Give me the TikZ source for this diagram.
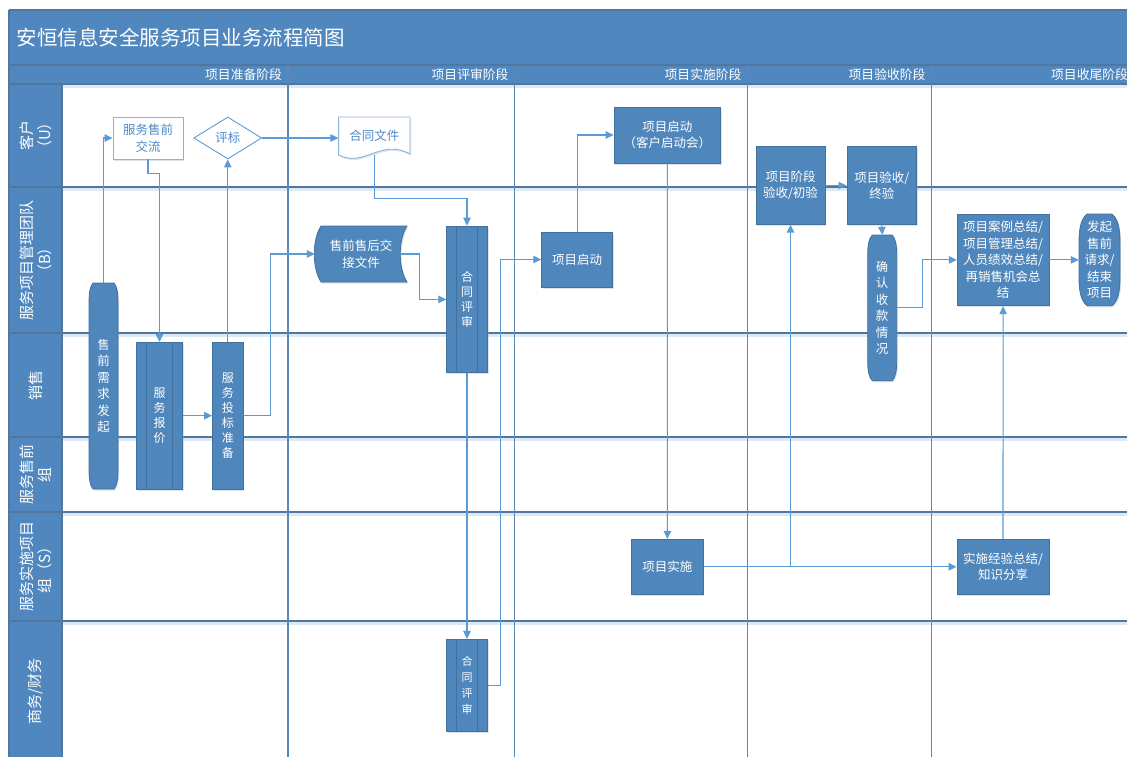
\documentclass[tikz,border=0pt]{standalone}
\usepackage{fontspec}
\setmainfont{Noto Sans CJK SC}
\usetikzlibrary{arrows.meta,shapes.geometric,calc,shadows}
\definecolor{hdr}{HTML}{4F87BE}
\definecolor{nodef}{HTML}{4F86BC}
\definecolor{nodeb}{HTML}{41719C}
\definecolor{lanel}{HTML}{52779F}
\definecolor{phasel}{HTML}{5C87B6}
\definecolor{connc}{HTML}{5B9BD5}
\definecolor{lightb}{HTML}{8EB2DC}
\definecolor{ltext}{HTML}{5089C8}
\definecolor{glow}{HTML}{DCE8F4}
\definecolor{shad}{HTML}{9DB3CC}
\pgfdeclarelayer{grid}
\pgfdeclarelayer{shape}
\pgfsetlayers{grid,shape,main}
\tikzset{
 nodetxt/.style={font=\fontsize{12.5}{16.5}\selectfont},
 softshadow/.style={drop shadow={shadow xshift=1.2pt, shadow yshift=-1.6pt, fill=shad, opacity=0.35}},
 fillbox/.style={draw=nodeb, fill=nodef, text=white, inner sep=0pt, align=center, line width=0.8pt, nodetxt, softshadow},
 ghost/.style={inner sep=0pt, align=center, text=white, nodetxt},
 outbox/.style={draw=lightb, fill=white, text=ltext, inner sep=0pt, align=center, line width=0.9pt, nodetxt, softshadow},
 sz/.style 2 args={minimum width=#1pt, minimum height=#2pt},
 conn/.style={draw=connc, line width=1.1pt, -{Triangle[length=8pt,width=7.5pt]}},
 laneline/.style={draw=lanel, line width=1.3pt},
 phaseline/.style={draw=phasel, line width=1.2pt},
 lanelabel/.style={rotate=90, text=white, align=center, font=\fontsize{15}{18}\selectfont},
 phaselabel/.style={anchor=east, text=white, font=\fontsize{12.8}{15}\selectfont},
 vstack/.style={font=\fontsize{12}{15}\selectfont},
 shapesty/.style={fill=nodef, draw=nodeb, line width=0.8pt, softshadow},
}
\newcommand{\pillnode}[7]{%
 \pgfmathsetmacro\pLx{#2-#4/2}%
 \pgfmathsetmacro\pRx{#2+#4/2}%
 \pgfmathsetmacro\pTy{#3-#5/2}%
 \pgfmathsetmacro\pBy{#3+#5/2}%
 \pgfmathsetmacro\pIn{#7*#4}%
 \pgfmathsetmacro\pCx{0.3*#7*#4}%
 \pgfmathsetmacro\pRy{0.7*#4}%
 \pgfmathsetmacro\pCa{0.15*0.7*#4}%
 \pgfmathsetmacro\pCb{0.45*0.7*#4}%
 \begin{pgfonlayer}{shape}
 \path[shapesty] ({\pLx+\pIn},\pTy) -- ({\pRx-\pIn},\pTy)
   .. controls ({\pRx-\pCx},{\pTy+\pCa}) and (\pRx,{\pTy+\pCb}) .. (\pRx,{\pTy+\pRy})
   -- (\pRx,{\pBy-\pRy})
   .. controls (\pRx,{\pBy-\pCb}) and ({\pRx-\pCx},{\pBy-\pCa}) .. ({\pRx-\pIn},\pBy)
   -- ({\pLx+\pIn},\pBy)
   .. controls ({\pLx+\pCx},{\pBy-\pCa}) and (\pLx,{\pBy-\pCb}) .. (\pLx,{\pBy-\pRy})
   -- (\pLx,{\pTy+\pRy})
   .. controls (\pLx,{\pTy+\pCb}) and ({\pLx+\pCx},{\pTy+\pCa}) .. cycle;
 \end{pgfonlayer}
 \node[ghost, sz={#4}{#5}] (#1) at (#2,#3) {#6};
}
\newcommand{\subprlines}[1]{\draw[nodeb, line width=0.8pt] ([xshift=10.5pt]#1.north west) -- ([xshift=10.5pt]#1.south west) ([xshift=-10.5pt]#1.north east) -- ([xshift=-10.5pt]#1.south east);}
\begin{document}
\begin{tikzpicture}[x=1pt,y=-1pt]
\useasboundingbox (0,0) rectangle (1127,756);
\begin{pgfonlayer}{grid}
\begin{scope}
\clip (0,0) rectangle (1127,756);
\fill[white] (0,0) rectangle (1127,756);
\fill[hdr] (9,10) rectangle (1145,84);
\fill[hdr] (9,84) rectangle (62,770);
\foreach \yy in {84,187,333,437,512,621} \draw[glow, line width=2.5pt] (62,\yy+2.5) -- (1145,\yy+2.5);
\draw[laneline] (9,65) -- (1145,65);
\draw[laneline] (9,84) -- (1145,84);
\foreach \yy in {187,333,437,512,621} \draw[laneline] (9,\yy) -- (1145,\yy);
\foreach \xx in {288,514.5,747.3,931.4,1134} \draw[phaseline] (\xx,65) -- (\xx,770);
\draw[laneline] (62,84) -- (62,770);
\draw[laneline] (9,10) -- (1145,10);
\draw[laneline] (9,10) -- (9,770);
\end{scope}
\end{pgfonlayer}

% title and headers
\node[anchor=west, text=white, font=\fontsize{20.5}{24}\selectfont] (title) at (13,38) {安恒信息安全服务项目业务流程简图};
\node[phaselabel] (ph1) at (285.5,74.5) {项目准备阶段};
\node[phaselabel] (ph2) at (512,74.5) {项目评审阶段};
\node[phaselabel] (ph3) at (745,74.5) {项目实施阶段};
\node[phaselabel] (ph4) at (929,74.5) {项目验收阶段};
\node[phaselabel] (ph5) at (1131.5,74.5) {项目收尾阶段};

\node[lanelabel] (lu) at (35.5,135.5) {客户\\（U）};
\node[lanelabel] (lb) at (35.5,260) {服务项目管理团队\\（B）};
\node[lanelabel] (lx) at (35.5,385) {销售};
\node[lanelabel] (lq) at (35.5,474.5) {服务售前\\组};
\node[lanelabel] (ls) at (35.5,566.5) {服务实施项目\\组（S）};
\node[lanelabel] (lw) at (35.5,691.5) {商务/财务};

% nodes
\node[outbox, sz={70}{42}] (fwsq) at (148,138) {服务售前\\交流};
\node[diamond, draw=connc, fill=white, text=ltext, inner sep=0pt, sz={68}{42}, nodetxt, line width=0.9pt] (pb) at (227.75,138) {评标};

\begin{pgfonlayer}{shape}
\path[draw=lightb, fill=white, line width=0.9pt, softshadow] (338.6,117) -- (410,117) -- (410,154) .. controls (381,138) and (364,168) .. (338.6,155) -- cycle;
\path[shapesty] (321,226) -- (407,226) .. controls (398,240) and (398,268) .. (407,282) -- (321,282) .. controls (312,268) and (312,240) .. cycle;
\end{pgfonlayer}
\node[ghost, text=ltext, sz={71.4}{42}] (ht) at (374.3,138) {\raisebox{5pt}{合同文件}};
\node[ghost, sz={92}{56}] (jj) at (361,254) {售前售后交\\接文件};

\node[fillbox, sz={40.6}{146.7}, vstack] (hp1) at (467,299.4) {合\\同\\评\\审};
\subprlines{hp1}
\node[fillbox, sz={41}{92.4}, font=\fontsize{11}{16}\selectfont] (hp2) at (467,685.5) {合\\同\\评\\审};
\subprlines{hp2}
\node[fillbox, sz={71}{55}] (qd1) at (577.2,259.5) {项目启动};
\node[fillbox, sz={106.6}{56}] (qd2) at (667.3,135) {项目启动\\（客户启动会）};
\node[fillbox, sz={69}{77.6}] (ys1) at (790.5,185.5) {项目阶段\\验收/初验};
\node[fillbox, sz={69.7}{77.6}] (ys2) at (881.8,185.5) {项目验收/\\终验};
\pillnode{qr}{882.2}{307.9}{29}{145.7}{\fontsize{12}{16}\selectfont 确\\认\\收\\款\\情\\况}{0.16}
\node[fillbox, sz={91.7}{91.7}] (zj) at (1003.1,259.9) {项目案例总结/\\项目管理总结/\\人员绩效总结/\\再销售机会总\\结};
\pillnode{fq}{1099.5}{259.9}{41}{91.7}{发起\\售前\\请求/\\结束\\项目}{0.2}
\pillnode{xqfq}{103.5}{386}{29}{206}{\fontsize{12}{15}\selectfont 售\\前\\需\\求\\发\\起}{0.14}
\node[fillbox, sz={46}{146.7}, vstack] (bj) at (159.5,415.7) {服\\务\\报\\价};
\subprlines{bj}
\node[fillbox, sz={30.5}{146.7}, vstack] (tb) at (227.75,415.7) {服\\务\\投\\标\\准\\备};
\node[fillbox, sz={71.6}{55}] (ss) at (667.4,566.8) {项目实施};
\node[fillbox, sz={92}{55}] (jy) at (1003,566.8) {实施经验总结/\\知识分享};

% connectors
\draw[conn] (xqfq.north) |- (fwsq.west);
\draw[conn] (fwsq.south) -- ++(0,14) -| (bj.north);
\draw[conn] (bj.east) -- (tb.west);
\draw[conn] (tb.north) -- (pb.south);
\draw[conn] (tb.east) -- ++(27,0) |- (jj.west);
\draw[conn] (pb.east) -- (ht.west);
\draw[conn] ([yshift=4pt]ht.south) |- ([yshift=27pt]hp1.north) -- (hp1.north);
\draw[conn] ([xshift=-7pt]jj.east) -| ([xshift=-26.7pt]hp1.west) -- (hp1.west);
\draw[conn] (hp1.south) -- (hp2.north);
\draw[conn] (hp2.east) -| ([xshift=-41pt]qd1.west) -- (qd1.west);
\draw[conn] (qd1.north) |- (qd2.west);
\draw[conn] (qd2.south) -- (ss.north);
\draw[conn] (ss.east) -- (jy.west);
\draw[conn] (ss.east) -| (ys1.south);
\draw[conn] (ys1.east) -- (ys2.west);
\draw[conn] (ys2.south) -- (qr.north);
\draw[conn] (qr.east) -| ([xshift=-34pt]zj.west) -- (zj.west);
\draw[conn] (zj.east) -- (fq.west);
\draw[conn] (jy.north) -- (zj.south);
\end{tikzpicture}
\end{document}
